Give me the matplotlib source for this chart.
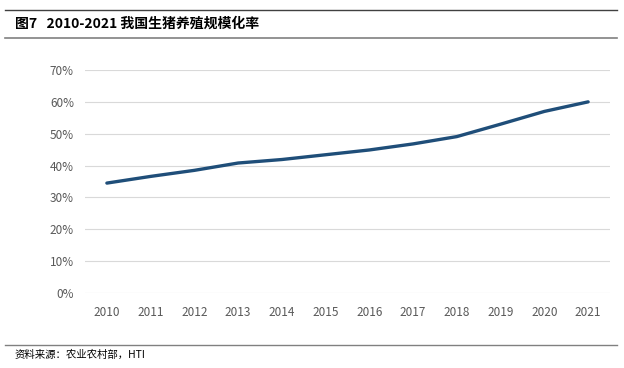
import matplotlib
matplotlib.use("Agg")
import matplotlib.pyplot as plt
from matplotlib.lines import Line2D
from matplotlib.ticker import PercentFormatter

plt.rcParams['font.family'] = ['Noto Sans CJK SC', 'DejaVu Sans']

years = ['2010', '2011', '2012', '2013', '2014', '2015', '2016', '2017', '2018', '2019', '2020', '2021']
rate = [0.345, 0.366, 0.385, 0.408, 0.419, 0.434, 0.449, 0.468, 0.491, 0.530, 0.570, 0.600]
yticks = [0, 0.1, 0.2, 0.3, 0.4, 0.5, 0.6, 0.7]

title = '图7   2010-2021 我国生猪养殖规模化率'
source = '资料来源：农业农村部，HTI'

W, H = 624, 368
fig = plt.figure(figsize=(W / 100, H / 100), dpi=100)
ax = fig.add_axes([85 / W, 1 - 293 / H, (610 - 85) / W, (293 - 70) / H])

x = list(range(len(years)))
ax.plot(x, rate, color='#1F4E79', lw=2.4, solid_capstyle='round', solid_joinstyle='round')
ax.set_xlim(-0.5, len(years) - 0.5)
ax.set_ylim(0, 0.7)
ax.set_yticks(yticks)
ax.yaxis.set_major_formatter(PercentFormatter(1.0, decimals=0))
ax.set_xticks(x)
ax.set_xticklabels(years)
ax.grid(axis='y', color='#D9D9D9', lw=0.8)
ax.set_axisbelow(True)
for s in ax.spines.values():
    s.set_visible(False)
ax.tick_params(axis='both', length=0, labelsize=8.5, labelcolor='#595959', pad=8)
ax.tick_params(axis='x', pad=9)

# header and footer lines
fig.add_artist(Line2D([5 / W, 617 / W], [1 - 10 / H, 1 - 10 / H], color='#404040', lw=1.0))
fig.add_artist(Line2D([5 / W, 617 / W], [1 - 38 / H, 1 - 38 / H], color='#808080', lw=1.2))
fig.add_artist(Line2D([5 / W, 617 / W], [1 - 345 / H, 1 - 345 / H], color='#808080', lw=1.0))

fig.text(15 / W, 1 - 24 / H, title, fontsize=10, fontweight='bold', va='center', ha='left', color='#000000')
fig.text(15 / W, 1 - 355 / H, source, fontsize=7.5, va='center', ha='left', color='#000000')

fig.savefig('out.png', dpi=100)
